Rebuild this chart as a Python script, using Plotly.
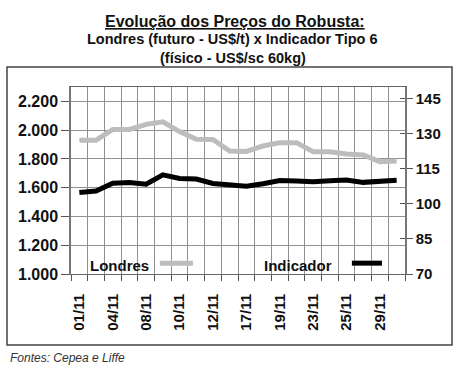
import plotly.graph_objects as go

dates = ["01/11", "03/11", "04/11", "05/11", "08/11", "09/11", "10/11", "11/11", "12/11", "16/11",
         "17/11", "18/11", "19/11", "22/11", "23/11", "24/11", "25/11", "26/11", "29/11", "30/11"]
londres = [1930, 1930, 2005, 2005, 2040, 2058, 1990, 1936, 1935, 1855,
           1852, 1890, 1913, 1913, 1850, 1850, 1834, 1827, 1781, 1785]
indicador = [104.9, 105.5, 108.8, 109.1, 108.4, 112.4, 110.9, 110.6, 108.7, 107.9,
             107.5, 108.6, 110.0, 109.8, 109.5, 109.9, 110.2, 109.2, 109.5, 110.1]
left_ticks = [1000, 1200, 1400, 1600, 1800, 2000, 2200]
right_ticks = [70, 85, 100, 115, 130, 145]

GRAY = "#bdbdbd"
GRID = "#909090"
FONT = "Liberation Sans"

x = list(range(len(dates)))
label_idx = x[::2]

fig = go.Figure()
fig.add_trace(go.Scatter(x=x, y=londres, mode="lines", name="Londres",
                         line=dict(color=GRAY, width=5), yaxis="y", showlegend=False))
fig.add_trace(go.Scatter(x=x, y=indicador, mode="lines", name="Indicador",
                         line=dict(color="#000000", width=5), yaxis="y2", showlegend=False))
fig.add_trace(go.Scatter(x=[], y=[], yaxis="y3", showlegend=False, hoverinfo="skip"))

fig.update_layout(
    width=460, height=373,
    margin=dict(l=71, r=55, t=87, b=99),
    paper_bgcolor="white", plot_bgcolor="white",
    separators=",.",
    font=dict(family=FONT, color="#111111"),
    xaxis=dict(
        range=[-0.5, len(dates) - 0.5],
        tickmode="array", tickvals=label_idx, ticktext=[dates[i] for i in label_idx],
        tickangle=-90, ticks="", showgrid=False,
        tickfont=dict(size=15, family=FONT, weight="bold"),
        showline=True, linecolor="#666666", linewidth=1, mirror=True,
        zeroline=False, ticklabelstandoff=13,
        minor=dict(tick0=-0.5, dtick=1, showgrid=True, gridcolor=GRID, gridwidth=1,
                   ticks="outside", ticklen=6, tickcolor="#555555"),
    ),
    yaxis=dict(
        range=[1000, 2300], tickmode="array", tickvals=left_ticks,
        tickformat=",.0f", showgrid=True, gridcolor=GRID, gridwidth=1,
        ticks="outside", ticklen=8, tickcolor="#555555",
        tickfont=dict(size=16, family=FONT, weight="bold"),
        showline=True, linecolor="#777777", linewidth=1.5, zeroline=False,
    ),
    yaxis2=dict(
        range=[70, 150], tickmode="array", tickvals=right_ticks,
        overlaying="y", side="right", showgrid=False,
        ticks="outside", ticklen=6, tickcolor="#555555",
        tickfont=dict(size=15, family=FONT, weight="bold"),
        showline=True, linecolor="#777777", linewidth=1.5, zeroline=False,
    ),
    yaxis3=dict(
        range=[70, 150], tickmode="array", tickvals=right_ticks,
        overlaying="y", side="right", showgrid=False, showticklabels=False,
        ticks="inside", ticklen=5, tickcolor="#555555", zeroline=False,
    ),
)

ann = [
    dict(text="<b><u>Evolução dos Preços do Robusta:</u></b>", x=0.49, y=1.35, size=16),
    dict(text="<b>Londres (futuro - US$/t) x Indicador Tipo 6</b>", x=0.485, y=1.255, size=14.5),
    dict(text="<b>(físico - US$/sc 60kg)</b>", x=0.485, y=1.153, size=14.5),
]
for a in ann:
    fig.add_annotation(text=a["text"], x=a["x"], y=a["y"], xref="paper", yref="paper",
                       xanchor="center", yanchor="middle", showarrow=False,
                       font=dict(size=a["size"], family=FONT, color="#111111"))

# legend drawn inside the plot: text followed by line sample
legend_items = [("Londres", GRAY, 0.051, 0.266, 0.365), ("Indicador", "#000000", 0.572, 0.841, 0.931)]
for name, col, tx, lx0, lx1 in legend_items:
    fig.add_annotation(text="<b>" + name + "</b>", x=tx, y=0.043, xref="paper", yref="paper",
                       xanchor="left", yanchor="middle", showarrow=False,
                       font=dict(size=15, family=FONT, color="#111111"))
    fig.add_shape(type="line", xref="paper", yref="paper", x0=lx0, x1=lx1, y0=0.058, y1=0.058,
                  line=dict(color=col, width=5))

# outer frame
fig.add_shape(type="rect", xref="paper", yref="paper", x0=-0.1916, x1=1.1407, y0=-0.3797, y1=1.107,
              line=dict(color="#444444", width=1.5), layer="below")

fig.add_annotation(text="<i>Fontes: Cepea e Liffe</i>", x=-0.1886, y=-0.449, xref="paper", yref="paper",
                   xanchor="left", yanchor="middle", showarrow=False,
                   font=dict(size=12, family=FONT, color="#333333"))

fig.write_html("out.html", config={"displayModeBar": False},
               post_script="document.body.style.margin='0';document.body.style.padding='0';")
